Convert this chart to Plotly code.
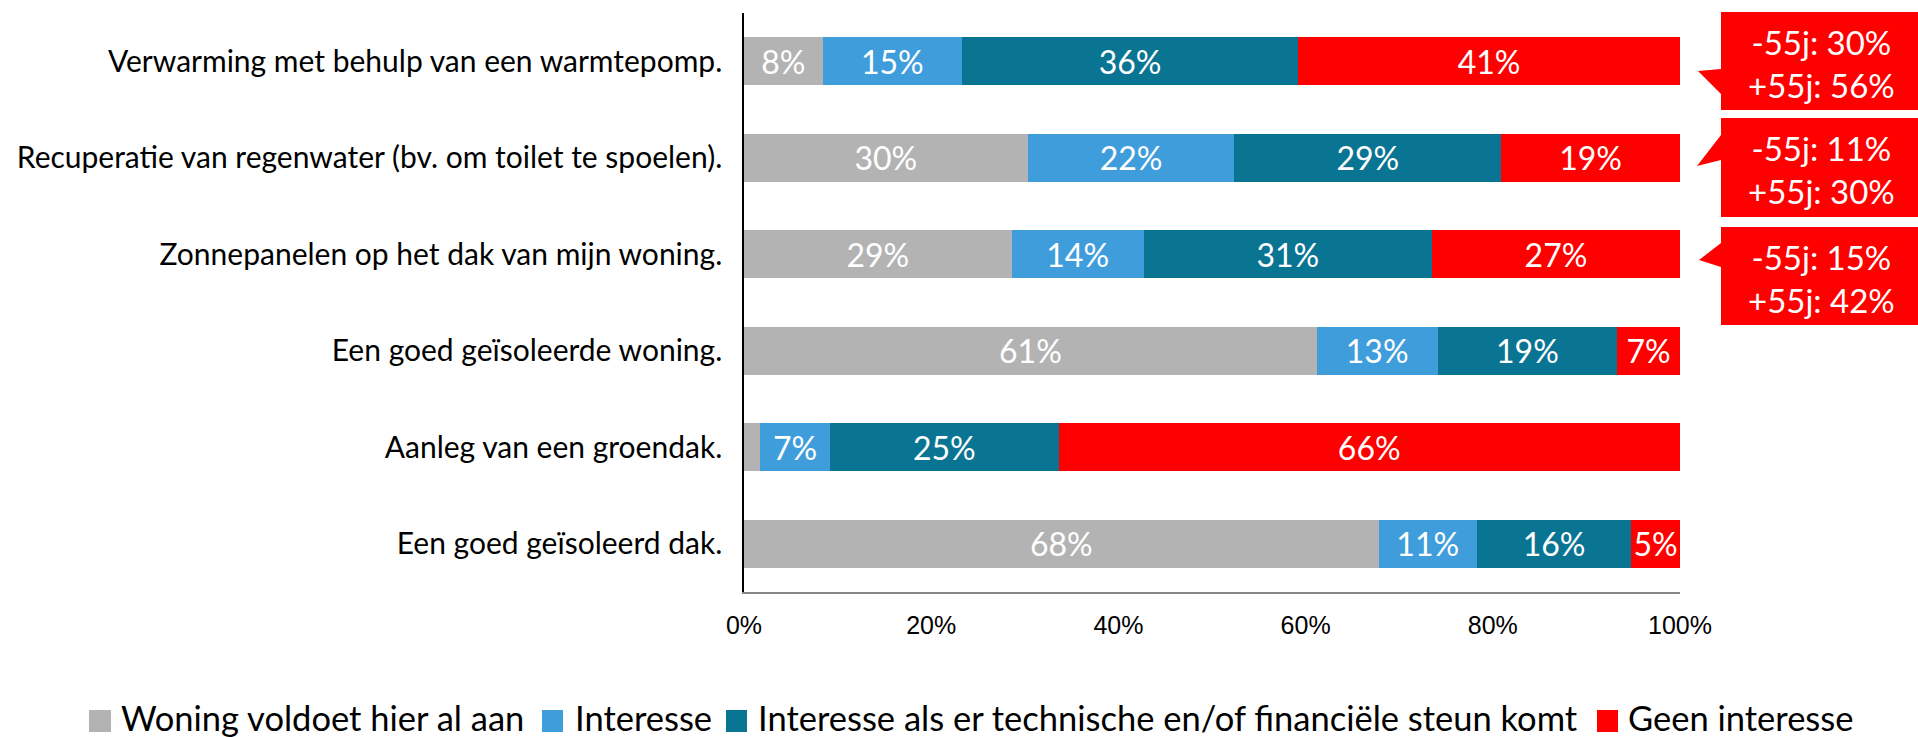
import plotly.graph_objects as go

# ---------------- data ----------------
categories = [
    "Verwarming met behulp van een warmtepomp.",
    "Recuperatie van regenwater (bv. om toilet te spoelen).",
    "Zonnepanelen op het dak van mijn woning.",
    "Een goed geïsoleerde woning.",
    "Aanleg van een groendak.",
    "Een goed geïsoleerd dak.",
]
series_names = [
    "Woning voldoet hier al aan",
    "Interesse",
    "Interesse als er technische en/of financiële steun komt",
    "Geen interesse",
]
voldoet = [8.4, 30.3, 28.6, 61.2, 1.7, 67.8]
interesse = [14.9, 22.1, 14.1, 12.9, 7.5, 10.5]
steun = [35.9, 28.5, 30.8, 19.2, 24.4, 16.5]
geen = [40.8, 19.1, 26.5, 6.7, 66.4, 5.2]

voldoet_labels = ["8%", "30%", "29%", "61%", "", "68%"]
interesse_labels = ["15%", "22%", "14%", "13%", "7%", "11%"]
steun_labels = ["36%", "29%", "31%", "19%", "25%", "16%"]
geen_labels = ["41%", "19%", "27%", "7%", "66%", "5%"]

x_tick_values = [0, 20, 40, 60, 80, 100]
x_tick_labels = ["0%", "20%", "40%", "60%", "80%", "100%"]

callout_young = ["-55j: 30%", "-55j: 11%", "-55j: 15%"]
callout_old = ["+55j: 56%", "+55j: 30%", "+55j: 42%"]

colors = ["#B3B3B3", "#409DDC", "#0A7493", "#FF0000"]

# ---------------- layout geometry (pixels) ----------------
W, H = 1918, 737
L, R, T, B = 744, 1680, 13, 592
SANS = "Lato"


def px(x):
    return (x - L) / (R - L)


def py(y):
    return (B - y) / (B - T)


fig = go.Figure()
values = [voldoet, interesse, steun, geen]
labels = [voldoet_labels, interesse_labels, steun_labels, geen_labels]
for name, vals, labs, col in zip(series_names, values, labels, colors):
    fig.add_trace(go.Bar(
        y=categories, x=vals, name=name, orientation="h",
        marker=dict(color=col, line=dict(width=0)),
        text=labs, textposition="inside", insidetextanchor="middle",
        textfont=dict(family=SANS, size=32, color="white"),
        showlegend=False, hoverinfo="skip",
    ))

shapes = []
annotations = []

# callouts
boxes = [
    (12, 110, 69, 94, (1698, 71)),
    (118, 217, 135, 160, (1697, 166)),
    (227, 325, 243, 267, (1699, 260)),
]
bx0, bx1 = 1721, 1918
for (top, bot, b1, b2, tip), yng, old in zip(boxes, callout_young, callout_old):
    path = (f"M {px(bx0)},{py(top)} L {px(bx1)},{py(top)} L {px(bx1)},{py(bot)} "
            f"L {px(bx0)},{py(bot)} L {px(bx0)},{py(b2)} L {px(tip[0])},{py(tip[1])} "
            f"L {px(bx0)},{py(b1)} Z")
    shapes.append(dict(type="path", xref="paper", yref="paper", path=path,
                       fillcolor="#FF0000", line=dict(width=0), layer="above"))
    annotations.append(dict(
        xref="paper", yref="paper", x=px(1821), y=py((top + bot) / 2 + 2),
        xanchor="center", yanchor="middle", showarrow=False,
        text=f"{yng}<br>{old}", align="center",
        font=dict(family=SANS, size=33, color="white"),
    ))

# manual legend
sq = [(89, 111), (542, 563), (726, 747), (1597, 1618)]
txt_x = [119, 573, 756, 1626]
for (s0, s1), tx, name, col in zip(sq, txt_x, series_names, colors):
    shapes.append(dict(type="rect", xref="paper", yref="paper",
                       x0=px(s0), x1=px(s1), y0=py(732), y1=py(710),
                       fillcolor=col, line=dict(width=0)))
    annotations.append(dict(
        xref="paper", yref="paper", x=px(tx), y=py(718),
        xanchor="left", yanchor="middle", showarrow=False, text=name,
        font=dict(family=SANS, size=34.5, color="black"),
    ))

fig.update_layout(
    width=W, height=H,
    margin=dict(l=L, r=W - R, t=T, b=H - B, pad=0),
    barmode="stack", bargap=0.5,
    plot_bgcolor="white", paper_bgcolor="white",
    uniformtext=dict(mode="show", minsize=32),
    showlegend=False,
    shapes=shapes, annotations=annotations,
    xaxis=dict(
        range=[0, 100], tickvals=x_tick_values, ticktext=x_tick_labels,
        showgrid=False, zeroline=False, showline=True, linecolor="#868686",
        linewidth=2, ticks="", ticklabelstandoff=10,
        tickfont=dict(family="Liberation Sans, Arial", size=25, color="black"),
    ),
    yaxis=dict(
        autorange="reversed", showgrid=False, zeroline=False, showline=True,
        linecolor="black", linewidth=1.5, ticks="", ticklabelstandoff=14,
        tickfont=dict(family=SANS, size=30, color="black"),
    ),
)

fig.write_html(
    "out.html",
    config={"displayModeBar": False},
    post_script="document.body.style.margin='0';document.body.style.overflow='hidden';",
)
